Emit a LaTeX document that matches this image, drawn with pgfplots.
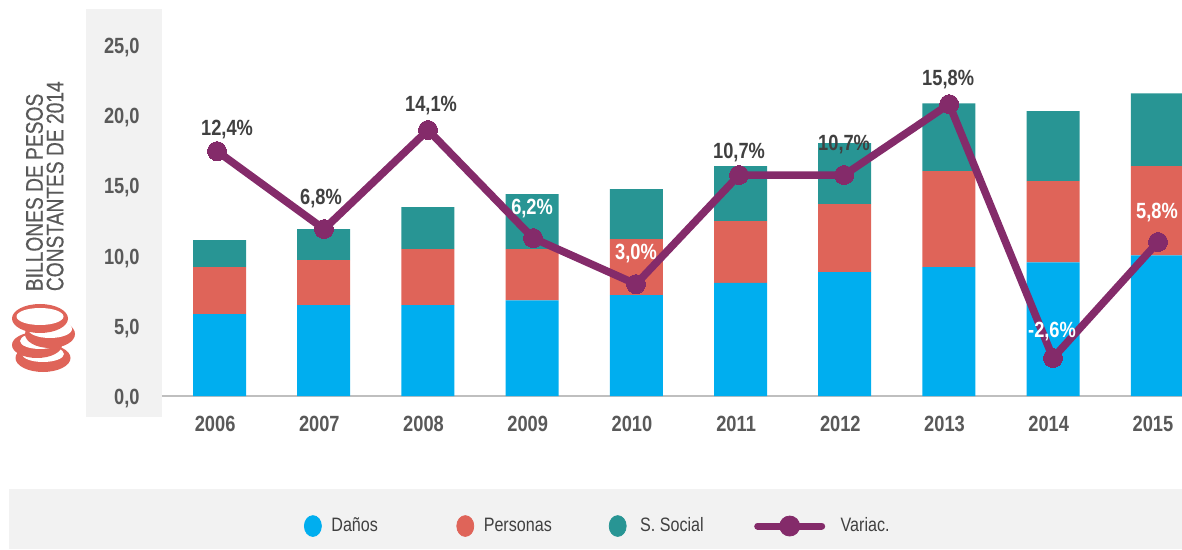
\documentclass[border=0pt]{standalone}
\usepackage{fontspec}
\setmainfont[FakeStretch=0.83]{Liberation Sans}
\newfontfamily\narrowfont[FakeStretch=0.8,FakeBold=0.4]{Liberation Sans}
\usepackage{pgfplots}
\usepackage{pgfplotstable}
\pgfplotsset{compat=1.18}

\definecolor{danos}{HTML}{00AEEF}
\definecolor{personas}{HTML}{DF6459}
\definecolor{social}{HTML}{289594}
\definecolor{variac}{HTML}{842B6A}
\definecolor{panel}{HTML}{F2F2F2}
\definecolor{ticktxt}{HTML}{595959}
\definecolor{labtxt}{HTML}{404040}
\definecolor{baseln}{HTML}{BFBFBF}

\pgfplotstableread{
x danos personas social
0 5.82 3.34 1.92
1 6.46 3.20 2.20
2 6.46 3.98 2.98
3 6.80 3.64 3.91
4 7.17 3.98 3.55
5 8.03 4.40 3.90
6 8.80 4.84 4.33
7 9.16 6.82 4.82
8 9.50 5.77 4.97
9 10.00 6.33 5.17
}\stackdata

% w: 100 = white label, 0 = dark label
\pgfplotstableread{
x y lab dx dy w
-0.024 17.40 12,4\% 5.0 11.0 0
1.003 11.86 6,8\% -1.5 15.5 0
2.001 18.90 14,1\% 1.5 12.0 0
3.009 11.22 6,2\% -0.5 15.0 100
3.997 7.95 3,0\% 0.0 15.5 100
4.986 15.70 10,7\% 0.0 11.5 0
5.994 15.70 10,7\% 0.0 15.5 0
7.002 20.74 15,8\% -0.5 12.5 0
7.999 2.70 -2,6\% -0.5 13.0 100
9.007 10.94 5,8\% -0.5 15.0 100
}\linedata

\pgfplotsset{
  base/.style={
    scale only axis,
    width=510pt, height=193.5pt,
    at={(81pt,-198pt)}, anchor=south west,
    xmin=-0.552, xmax=9.237,
    ymin=0, ymax=27.5,
  },
}

\begin{document}
\begin{tikzpicture}
  % page is 1182x550 px at 0.5pt/px, origin top left
  \path[use as bounding box] (0,0) rectangle (591pt,-275pt);
  \begin{scope}[x=0.5pt,y=-0.5pt]
    \fill[panel] (86,9) rectangle (162,417);
    \fill[panel] (9,489) rectangle (1182,549);
    % coins, bottom one first
    \foreach \cx/\cy/\ora/\orb/\wx/\wy/\ira/\irb in {
      43/358/27.5/14/43/354/21/8,
      37/345/25/13/40/341/20/8,
      50/334/25/14/50/329/22/9,
      40/318.5/28/14.5/40/316.5/23.5/8.5}{
      \fill[personas] (\cx,\cy) ellipse [x radius=\ora, y radius=\orb];
      \fill[white] (\wx,\wy) ellipse [x radius=\ira, y radius=\irb];
    }
  \end{scope}

  \begin{axis}[
    base,
    ybar stacked,
    bar width=26.5pt,
    axis x line=bottom,
    axis y line=left,
    x axis line style={draw=baseln, line width=1pt, -},
    y axis line style={draw=none},
    major tick length=0pt,
    tick style={draw=none},
    xtick={0,...,9},
    xticklabels={2006,2007,2008,2009,2010,2011,2012,2013,2014,2015},
    ytick={0,5,10,15,20,25},
    /pgf/number format/.cd, fixed, fixed zerofill, precision=1, use comma, assume math mode=true,
    /pgfplots/.cd,
    xticklabel style={font=\fontsize{11}{13}\selectfont\bfseries, text=ticktxt, anchor=north, xshift=-2.2pt, yshift=-6.5pt},
    yticklabel style={font=\fontsize{11}{13}\selectfont\bfseries, text=ticktxt, anchor=east, inner sep=0pt, xshift=-11pt, yshift=-1.5pt},
    ylabel={BILLONES DE PESOS\\CONSTANTES DE 2014},
    ylabel style={at={(axis description cs:-0.0961,0.27)}, anchor=south west, align=left, inner sep=0pt,
      font=\narrowfont\fontsize{12}{10.3}\selectfont, text=ticktxt},
  ]
    \addplot[fill=danos, draw=none] table[x=x, y=danos] {\stackdata};
    \addplot[fill=personas, draw=none] table[x=x, y=personas] {\stackdata};
    \addplot[fill=social, draw=none] table[x=x, y=social] {\stackdata};
  \end{axis}

  \begin{axis}[
    base,
    hide axis,
    clip=false,
    legend columns=4,
    legend cell align=left,
    legend style={at={(axis description cs:0.1392,-0.336)}, anchor=west, draw=none, fill=none,
      inner sep=0pt, outer sep=0pt,
      font=\fontsize{9.7}{11}\selectfont, text=labtxt,
      nodes={inner sep=0pt},
      /tikz/every even column/.append style={column sep=0pt}},
  ]
    \addlegendimage{legend image code/.code={\fill[danos] (4.25pt,0pt) ellipse (4.25pt and 5.2pt); \path[draw=none] (0pt,0pt) -- (13.5pt,0pt);}}
    \addlegendentry{\makebox[62.5pt][l]{Daños}}
    \addlegendimage{legend image code/.code={\fill[personas] (4.25pt,0pt) ellipse (4.25pt and 5.2pt); \path[draw=none] (0pt,0pt) -- (13.5pt,0pt);}}
    \addlegendentry{\makebox[62.5pt][l]{Personas}}
    \addlegendimage{legend image code/.code={\fill[social] (4.25pt,0pt) ellipse (4.25pt and 5.2pt); \path[draw=none] (0pt,0pt) -- (15.5pt,0pt);}}
    \addlegendentry{\makebox[57pt][l]{S. Social}}
    \addlegendimage{legend image code/.code={\draw[variac, line width=3.5pt, line cap=round] (1pt,0pt) -- (33pt,0pt); \fill[variac] (17pt,0pt) circle (5pt); \path[draw=none] (0pt,0pt) -- (42.5pt,0pt);}}
    \addlegendentry{Variac.}

    \addplot[
      color=variac, line width=3.8pt, line join=round,
      mark=*, mark size=4.75pt, mark options={fill=variac, draw=variac, line width=0pt},
      point meta=explicit symbolic,
      visualization depends on={\thisrow{dx} \as \labdx},
      visualization depends on={\thisrow{dy} \as \labdy},
      visualization depends on={\thisrow{w} \as \labw},
      nodes near coords,
      nodes near coords style={anchor=center, inner sep=0pt, xshift=\labdx pt, yshift=\labdy pt,
        font=\fontsize{11}{13}\selectfont\bfseries, text=white!\labw!labtxt},
    ] table[x=x, y=y, meta=lab] {\linedata};
  \end{axis}
\end{tikzpicture}
\end{document}
